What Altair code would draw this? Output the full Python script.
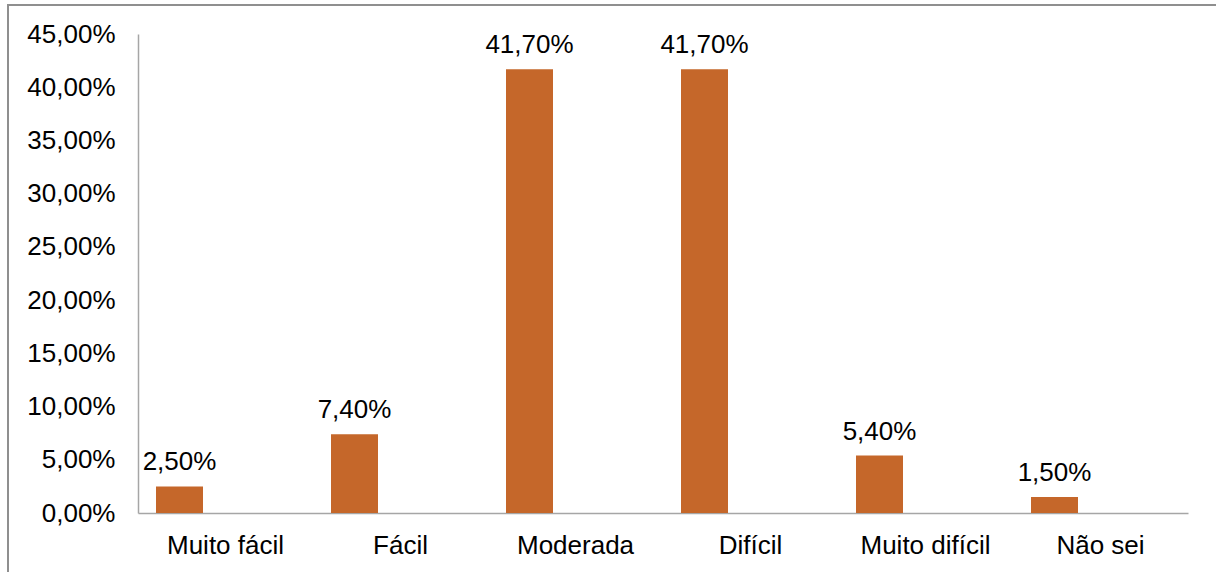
import altair as alt
import pandas as pd

# Survey answers and their shares (fractions)
categorias = ["Muito fácil", "Fácil", "Moderada", "Difícil", "Muito difícil", "Não sei"]
percentuais = [0.025, 0.074, 0.417, 0.417, 0.054, 0.015]
marcas_y = [0.0, 0.05, 0.10, 0.15, 0.20, 0.25, 0.30, 0.35, 0.40, 0.45]

df = pd.DataFrame({"categoria": categorias, "valor": percentuais})

FONT = "Liberation Sans"
FONT_SIZE = 26
BAR_COLOR = "#C5672A"
PLOT_W, PLOT_H = 1050, 479
PAD = {"left": 138, "top": 34, "right": 28, "bottom": 59}

x_enc = alt.X(
    "categoria:N",
    sort=categorias,
    scale=alt.Scale(paddingInner=0, paddingOuter=0),
    axis=alt.Axis(
        title=None, labelAngle=0, ticks=False, domainColor="#A6A6A6", domainWidth=1.5,
        labelFont=FONT, labelFontSize=FONT_SIZE, labelColor="#000000",
        labelBaseline="alphabetic", labelPadding=40,
    ),
)
y_enc = alt.Y(
    "valor:Q",
    scale=alt.Scale(domain=[0, 0.45], nice=False),
    axis=alt.Axis(
        title=None, values=marcas_y, grid=False, ticks=False,
        domainColor="#A6A6A6", domainWidth=1.5,
        labelFont=FONT, labelFontSize=FONT_SIZE, labelColor="#000000", labelPadding=23,
        labelExpr="replace(format(datum.value, '.2%'), '.', ',')",
    ),
)

bars = alt.Chart(df).mark_bar(width=47, xOffset=-46, color=BAR_COLOR).encode(x=x_enc, y=y_enc)

labels = (
    alt.Chart(df)
    .transform_calculate(rotulo="replace(format(datum.valor, '.2%'), '.', ',')")
    .mark_text(xOffset=-46, dy=-16, baseline="alphabetic", font=FONT, fontSize=FONT_SIZE, color="#000000")
    .encode(x=alt.X("categoria:N", sort=categorias), y="valor:Q", text="rotulo:N")
)

# Outer frame of the chart area (left and top edges visible)
frame = (
    alt.Chart(alt.Data(values=[{}]))
    .mark_rect(fill=None, stroke="#8F8F8F", strokeWidth=2)
    .encode(
        x=alt.value(8 - PAD["left"]),
        y=alt.value(5 - PAD["top"]),
        x2=alt.value(1240 - PAD["left"]),
        y2=alt.value(620 - PAD["top"]),
    )
)

chart = (
    alt.layer(bars, labels, frame)
    .properties(
        width=PLOT_W, height=PLOT_H,
        autosize=alt.AutoSizeParams(type="none"), padding=PAD, background="#FFFFFF",
    )
    .configure_view(stroke="transparent", strokeWidth=0)
)

chart.save("out.html", embed_options={"renderer": "svg", "actions": False})
